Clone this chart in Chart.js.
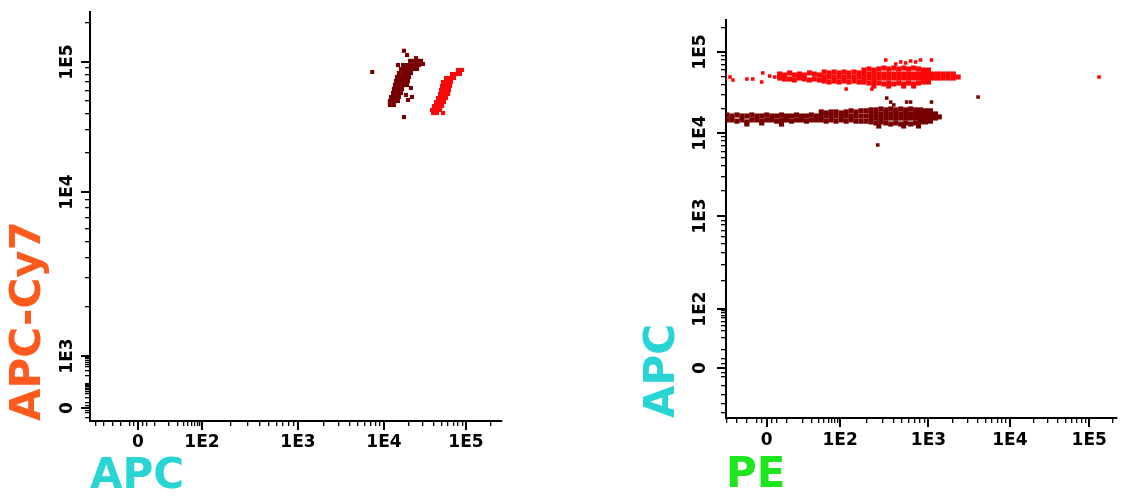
<!DOCTYPE html>
<html>
<head>
<title>APC / APC-Cy7 / PE</title>
<script src="https://cdn.jsdelivr.net/npm/chart.js"></script>
<style>
body { margin: 0; background: #fff; width: 1121px; height: 496px; overflow: hidden; position: relative; }
canvas { position: absolute; top: 0; }
#left { left: 0; }
#right { left: 600px; }
</style>
</head>
<body>
<canvas id="left" width="540" height="496"></canvas>
<canvas id="right" width="521" height="496"></canvas>
<script>
// axis names and labelled ticks
const leftXTitle = 'APC', leftYTitle = 'APC-Cy7';
const rightXTitle = 'PE', rightYTitle = 'APC';
const leftXLabels = [0, 1e2, 1e3, 1e4, 1e5];
const leftYLabels = [0, 1e3, 1e4, 1e5];
const rightXLabels = [0, 1e2, 1e3, 1e4, 1e5];
const rightYLabels = [0, 1e2, 1e3, 1e4, 1e5];

// left plot: [APC, APC-Cy7]
const apcCy7Dark = [
  [20800,102000],[23200,102000],[26000,102000],[28300,102000],
  [17100,94800],[19100,94800],[21300,94800],[23900,94800],[26700,94800],
  [16100,88400],[18000,88400],[20200,88400],[22600,88400],[25300,88400],
  [15200,82300],[17100,82300],[19100,82300],[21300,82300],
  [14400,76700],[16100,76700],[18000,76700],[20200,76700],
  [14000,71400],[15700,71400],[17500,71400],[19600,71400],
  [13600,66500],[15200,66500],[17100,66500],[19100,66500],
  [13200,62000],[14800,62000],[16600,62000],
  [12900,57700],[14400,57700],[16100,57700],
  [12200,53800],[13600,53800],[15200,53800],
  [11800,50100],[13200,50100],[14800,50100],
  [11800,46700],[13200,46700],
  [7300,83800],[17500,122000],[19100,113000],[14800,94800],[21900,53800],
  [19600,51000],[17500,37700],[24600,107000],[29900,96500],[21300,63100],[18500,55800]
];
const apcCy7Red = [
  [79900,86800],[89400,86800],
  [67500,80900],[75500,80900],[84500,80900],
  [57100,75300],[63900,75300],[71400,75300],
  [52500,70200],[58700,70200],[65600,70200],
  [51000,65400],[57100,65400],[63900,65400],
  [49600,60900],[55500,60900],[62100,60900],
  [48200,56700],[53900,56700],[60400,56700],
  [45600,52800],[51000,52800],[57100,52800],
  [43100,49200],[48200,49200],[53900,49200],
  [40700,45900],[45600,45900],[51000,45900],
  [38500,42700],[43100,42700],[48200,42700],
  [39600,40500],[44300,40500],[52500,40500]
];

// right plot: [PE, APC]
const peApcHigh = [
  [6.5,53500],[9,52000],[11.4,55100],[14,52000],[17.4,53500],[21.5,52000],[26.7,55100],[33,53500],[41,52000],
  [6.5,47700],[9,46400],[11.4,46400],[14,45100],[17.4,47700],[21.5,46400],[26.7,45100],[33,46400],[41,45100],
  [50.5,56600],[62.5,55100],[77.4,56600],[96,55100],[111,56600],[126,55100],[144,56600],[164,55100],
  [50.5,49100],[62.5,49100],[77.4,49100],[96,49100],[111,49100],[126,49100],[144,49100],[164,49100],
  [50.5,43800],[62.5,42600],[77.4,43800],[96,42600],[111,43800],[126,42600],[144,43800],[164,42600],
  [186,59900],[212,61700],[241,59900],[274,61700],[312,63400],[355,61700],[405,63400],
  [460,61700],[524,63400],[596,61700],[679,63400],[772,61700],[879,59900],[1000,59900],
  [186,53500],[212,53500],[241,53500],[274,53500],[312,53500],[355,53500],[405,53500],
  [460,53500],[524,53500],[596,53500],[679,53500],[772,53500],[879,53500],[1000,53500],
  [186,47700],[212,47700],[241,47700],[274,47700],[312,47700],[355,47700],[405,47700],
  [460,47700],[524,47700],[596,47700],[679,47700],[772,47700],[879,47700],[1000,47700],
  [186,42600],[212,41400],[241,42600],[274,41400],[312,40300],[355,41400],[405,40300],
  [460,41400],[524,40300],[596,41400],[679,40300],[772,41400],[879,42600],[1000,42600],
  [241,38000],[355,38000],[524,38000],[679,38000],
  [1150,53500],[1320,53500],[1520,53500],[1750,53500],[2020,53500],
  [1150,47700],[1320,47700],[1520,47700],[1750,47700],[2020,47700],[2320,49100]
];
const peApcHighEvents = [
  [-21,52000],[-21,46400],[-18.5,49100],[-17,45100],[-10,46400],[-7,46400],
  [-2.5,42600],[-2,55100],[1.5,50500],[4,49100],
  [329,79700],[426,71100],[485,75300],[552,73200],[628,77400],[715,75300],[813,79700],[1090,79700],
  [117,34900],[229,34900],[133000,49100]
];
const peApcLow = [
  [-20,16700],[-17.5,16200],[-15,16700],[-12.5,16200],[-10,16200],[-7.5,16700],[-5,16200],[-2.5,16200],
  [0,16700],[2.5,16200],[5,16200],[7.5,16700],[10,16200],[12.4,16200],[15.3,16700],[19,16200],
  [23.5,16200],[29,16700],[36,16200],
  [-20,14500],[-17.5,14500],[-15,14000],[-12.5,14500],[-10,13700],[-7.5,14500],[-5,14500],[-2.5,14000],
  [0,14500],[2.5,14500],[5,14000],[7.5,14500],[10,14500],[12.4,14000],[15.3,14500],[19,14500],
  [23.5,14000],[29,14500],[36,14500],
  [44.5,18200],[55,17700],[68,18200],[84,18200],[103,17700],[117,18200],[133,18800],[151,18200],[172,18800],[196,18800],
  [44.5,16200],[55,16200],[68,16200],[84,16200],[103,16200],[117,16200],[133,16200],[151,16200],[172,16200],[196,16200],
  [44.5,14500],[55,14000],[68,14500],[84,14000],[103,14500],[117,14000],[133,14500],[151,14000],[172,14000],[196,14000],
  [223,19300],[254,19300],[289,19800],[329,19300],[374,19800],[426,19300],[485,19800],
  [552,19300],[628,19800],[715,19300],[813,19300],[925,18800],[1060,18800],
  [223,17200],[254,17200],[289,17200],[329,17200],[374,17200],[426,17200],[485,17200],
  [552,17200],[628,17200],[715,17200],[813,17200],[925,17200],[1060,17200],
  [223,15300],[254,15300],[289,15300],[329,15300],[374,15300],[426,15300],[485,15300],
  [552,15300],[628,15300],[715,15300],[813,15300],[925,15300],[1060,15300],
  [223,13700],[254,13300],[289,13700],[329,13300],[374,12900],[426,13300],[485,12900],
  [552,13300],[628,12900],[715,13300],[813,13700],[925,13700],[1060,14000],
  [1220,17200],[1220,15300],[1360,15800],
  [-10,12900],[-2.5,13300],[7.5,12900],[274,12200],[524,12200],[772,12200]
];
const peApcLowEvents = [
  [337,27000],[374,24100],[405,22200],[566,24100],[628,24100],[1090,24100],[4070,27800],[267,7170]
];

// biexponential-like display scales: [value, axis unit] anchors, linear up to 10, log above
const leftXWarp = [[0,48],[10,65],[100,112],[1e3,208],[1e4,294],[1e5,376]];
const leftYWarp = [[0,13],[10,23],[100,37],[1e3,65],[1e4,229],[1e5,359]];
const rightXWarp = [[0,41],[10,61],[100,115],[1e3,204],[1e4,286],[1e5,366]];
const rightYWarp = [[0,50],[10,68],[100,109],[1e3,202],[1e4,285],[1e5,366]];

const FONT = "'DejaVu Sans', sans-serif";

function makeWarp(a) {
  const slope = (a[1][1] - a[0][1]) / 10;
  return v => {
    if (v <= 10) return a[0][1] + v * slope;
    for (let i = 1; i < a.length - 1; i++) {
      if (v <= a[i + 1][0]) {
        return a[i][1] + (a[i + 1][1] - a[i][1]) * Math.log10(v / a[i][0]) / Math.log10(a[i + 1][0] / a[i][0]);
      }
    }
    const n = a.length;
    return a[n - 1][1] + (a[n - 1][1] - a[n - 2][1]) * Math.log10(v / a[n - 1][0]);
  };
}

function tickList(w, max, labelled) {
  const vals = [];
  for (let v = -5; w(v) >= 0; v -= 5) vals.unshift(v);
  vals.push(-2.5, 0, 2.5, 5);
  for (let d = 10; d <= 1e6; d *= 10) {
    for (let m = 1; m < 10; m++) if (w(m * d) <= max) vals.push(m * d);
  }
  return vals.map(v => {
    const major = labelled.includes(v);
    return { value: w(v), major, txt: major ? (v === 0 ? '0' : '1E' + Math.round(Math.log10(v))) : '' };
  });
}

function axis(w, max, labelled, title, color, o) {
  const vertical = o.vertical;
  return {
    type: 'linear', min: 0, max,
    afterBuildTicks: s => { s.ticks = tickList(w, max, labelled); },
    afterFit: s => { if (vertical) s.width = o.size; else s.height = o.size; },
    border: { display: true, color: '#000', width: 2 },
    grid: {
      drawOnChartArea: false, drawTicks: true, tickLength: 5, color: '#000',
      lineWidth: c => (c.tick && c.tick.major ? 2 : 1.3)
    },
    ticks: {
      autoSkip: false, color: '#000', padding: o.tickPad,
      font: { family: FONT, size: 17, weight: 'bold' },
      minRotation: vertical ? 90 : 0, maxRotation: vertical ? 90 : 0,
      crossAlign: vertical ? 'center' : 'near',
      callback: (v, i, t) => t[i].txt
    },
    title: {
      display: true, text: title, color, align: 'start',
      font: { family: FONT, size: 42, weight: 'bold', lineHeight: 0.9 },
      padding: o.titlePad
    }
  };
}

// longer marks for the labelled ticks
const majorTicks = {
  id: 'majorTicks',
  afterDraw(chart) {
    const ctx = chart.ctx;
    ctx.save();
    ctx.strokeStyle = '#000';
    ctx.lineWidth = 2;
    Object.values(chart.scales).forEach(s => {
      s.ticks.forEach(t => {
        if (!t.major) return;
        const p = Math.round(s.getPixelForValue(t.value));
        ctx.beginPath();
        if (s.isHorizontal()) { ctx.moveTo(p, s.top); ctx.lineTo(p, s.top + 9); }
        else { ctx.moveTo(s.right, p); ctx.lineTo(s.right - 9, p); }
        ctx.stroke();
      });
    });
    ctx.restore();
  }
};

function plot(id, cfg) {
  const wx = makeWarp(cfg.xWarp), wy = makeWarp(cfg.yWarp);
  return new Chart(document.getElementById(id), {
    type: 'scatter',
    data: {
      datasets: cfg.sets.map(s => ({
        data: s.pts.map(([x, y]) => ({ x: wx(x), y: wy(y) })),
        pointStyle: 'rect', pointRadius: s.r, pointBorderWidth: 0,
        pointBackgroundColor: s.color, pointBorderColor: s.color, backgroundColor: s.color
      }))
    },
    options: {
      responsive: false, animation: false, events: [],
      layout: { padding: cfg.pad },
      plugins: { legend: { display: false }, tooltip: { enabled: false } },
      scales: {
        x: axis(wx, cfg.xMax, cfg.xLabels, cfg.xTitle, cfg.xColor,
          { vertical: false, size: cfg.xSize, tickPad: cfg.xTickPad, titlePad: { top: 0, bottom: cfg.xTitlePad } }),
        y: axis(wy, cfg.yMax, cfg.yLabels, cfg.yTitle, cfg.yColor,
          { vertical: true, size: cfg.ySize, tickPad: cfg.yTickPad, titlePad: { top: cfg.yTitlePad, bottom: 0 } })
      }
    },
    plugins: [majorTicks]
  });
}

const DARK = '#760000', RED = '#f80808';
const ORANGE = '#ff5a1e', CYAN = '#28d4d4', GREEN = '#1ee61e';

plot('left', {
  xWarp: leftXWarp, yWarp: leftYWarp, xMax: 412, yMax: 409,
  xLabels: leftXLabels, yLabels: leftYLabels,
  xTitle: leftXTitle, yTitle: leftYTitle, xColor: CYAN, yColor: ORANGE,
  pad: { top: 12, right: 38, left: 0, bottom: 0 },
  xSize: 75, ySize: 90, xTickPad: 6, yTickPad: 0, xTitlePad: 0, yTitlePad: 10,
  sets: [
    { pts: apcCy7Dark, color: DARK, r: 2.9 },
    { pts: apcCy7Red, color: RED, r: 2.9 }
  ]
});

plot('right', {
  xWarp: rightXWarp, yWarp: rightYWarp, xMax: 394, yMax: 398,
  xLabels: rightXLabels, yLabels: rightYLabels,
  xTitle: rightXTitle, yTitle: rightYTitle, xColor: GREEN, yColor: CYAN,
  pad: { top: 20, right: 1, left: 0, bottom: 0 },
  xSize: 78, ySize: 126, xTickPad: 7, yTickPad: 2.5, xTitlePad: 1, yTitlePad: 44.5,
  sets: [
    { pts: peApcLow, color: DARK, r: 3.6 },
    { pts: peApcLowEvents, color: DARK, r: 2.5 },
    { pts: peApcHigh, color: RED, r: 3.6 },
    { pts: peApcHighEvents, color: RED, r: 2.5 }
  ]
});
</script>
</body>
</html>
